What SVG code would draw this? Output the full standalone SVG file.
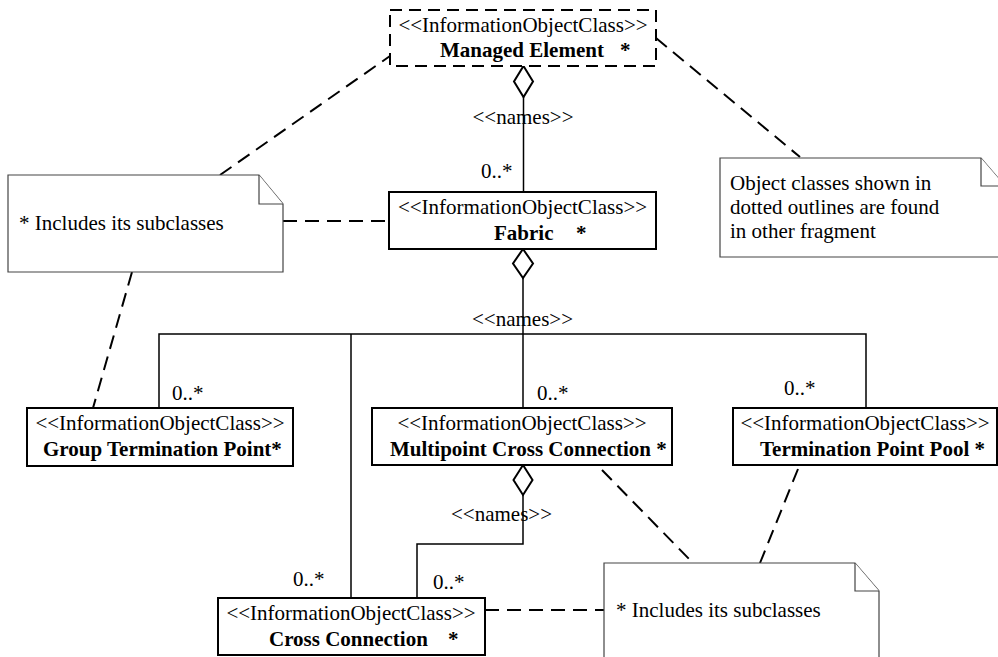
<svg xmlns="http://www.w3.org/2000/svg" width="998" height="657" viewBox="0 0 998 657">
  <style>
    text { font-family: "Liberation Serif", "Times New Roman", serif; font-size: 21px; fill: #000; }
    .b { font-weight: bold; }
    .mid { text-anchor: middle; }
    .box { fill: #fff; stroke: #000; stroke-width: 2; }
    .ext { fill: #fff; stroke: #000; stroke-width: 2; stroke-dasharray: 12 7; }
    .note { fill: #fff; stroke: #444; stroke-width: 1.2; }
    .link { fill: none; stroke: #000; stroke-width: 1.5; }
    .dash { fill: none; stroke: #000; stroke-width: 2; stroke-dasharray: 14 8; }
    .agg { fill: #fff; stroke: #000; stroke-width: 2; }
  </style>

  <!-- note attachments and associations -->
  <g id="connectors">
    <!-- dashed note anchors -->
    <line class="dash" x1="220" y1="175" x2="390" y2="56"/>
    <line class="dash" x1="656" y1="38" x2="800" y2="157"/>
    <line class="dash" x1="283" y1="221" x2="389" y2="221"/>
    <line class="dash" x1="132" y1="272" x2="93" y2="408"/>
    <line class="dash" x1="602" y1="470" x2="693" y2="563"/>
    <line class="dash" x1="798" y1="469" x2="760" y2="563"/>
    <line class="dash" x1="485" y1="610" x2="604" y2="610"/>

    <!-- Managed Element names Fabric -->
    <line class="link" x1="523.5" y1="97" x2="523.5" y2="192"/>
    <!-- Fabric names its children -->
    <line class="link" x1="523" y1="278" x2="523" y2="408"/>
    <polyline class="link" points="159,408 159,334 866,334 866,408"/>
    <line class="link" x1="351" y1="334" x2="351" y2="598"/>
    <!-- Multipoint Cross Connection names Cross Connection -->
    <polyline class="link" points="523,495 523,544 417,544 417,598"/>

    <!-- aggregation diamonds -->
    <polygon class="agg" points="523.5,66 533,81.5 523.5,97 514,81.5"/>
    <polygon class="agg" points="523,249 533,263.5 523,278 513,263.5"/>
    <polygon class="agg" points="523,465 532.5,480 523,495 513.5,480"/>

    <!-- role labels -->
    <text class="mid" x="523" y="124">&lt;&lt;names&gt;&gt;</text>
    <text x="481" y="178">0..*</text>
    <text class="mid" x="522.5" y="326">&lt;&lt;names&gt;&gt;</text>
    <text x="172" y="400">0..*</text>
    <text x="537" y="400">0..*</text>
    <text x="784" y="395">0..*</text>
    <text class="mid" x="501.5" y="521">&lt;&lt;names&gt;&gt;</text>
    <text x="293" y="586">0..*</text>
    <text x="433" y="589">0..*</text>
  </g>

  <g id="managed-element">
    <rect class="ext" x="390" y="10" width="266" height="56"/>
    <text class="mid" x="523" y="32">&lt;&lt;InformationObjectClass&gt;&gt;</text>
    <text class="b" y="57"><tspan x="440">Managed Element</tspan><tspan x="620">*</tspan></text>
  </g>

  <g id="fabric">
    <rect class="box" x="389" y="192" width="267" height="57"/>
    <text class="mid" x="522.5" y="214">&lt;&lt;InformationObjectClass&gt;&gt;</text>
    <text class="b" y="240"><tspan x="494">Fabric</tspan><tspan x="576">*</tspan></text>
  </g>

  <g id="group-termination-point">
    <rect class="box" x="27" y="408" width="266" height="58"/>
    <text class="mid" x="160" y="430">&lt;&lt;InformationObjectClass&gt;&gt;</text>
    <text class="b" x="43" y="456">Group Termination Point*</text>
  </g>

  <g id="multipoint-cross-connection">
    <rect class="box" x="372" y="408" width="300" height="57"/>
    <text class="mid" x="522" y="430">&lt;&lt;InformationObjectClass&gt;&gt;</text>
    <text class="b" x="390" y="456">Multipoint Cross Connection *</text>
  </g>

  <g id="termination-point-pool">
    <rect class="box" x="733" y="408" width="264" height="57"/>
    <text class="mid" x="865" y="430">&lt;&lt;InformationObjectClass&gt;&gt;</text>
    <text class="b" x="760" y="456">Termination Point Pool *</text>
  </g>

  <g id="cross-connection">
    <rect class="box" x="218" y="598" width="267" height="57"/>
    <text class="mid" x="351" y="620">&lt;&lt;InformationObjectClass&gt;&gt;</text>
    <text class="b" y="646"><tspan x="269">Cross Connection</tspan><tspan x="448">*</tspan></text>
  </g>

  <g id="note-subclasses-top">
    <path class="note" d="M8,175 H259 L283,204 V272 H8 Z"/>
    <polyline class="note" points="259,175 259,204 283,204"/>
    <text x="19" y="230">* Includes its subclasses</text>
  </g>

  <g id="note-fragment">
    <path class="note" d="M720,158 H981 L1005,186 V257 H720 Z"/>
    <polyline class="note" points="981,158 981,186 1005,186"/>
    <text x="730" y="189.5">Object classes shown in</text>
    <text x="730" y="213.5">dotted outlines are found</text>
    <text x="730" y="237.5">in other fragment</text>
  </g>

  <g id="note-subclasses-bottom">
    <path class="note" d="M604,563 H855 L879,591 V670 H604 Z"/>
    <polyline class="note" points="855,563 855,591 879,591"/>
    <text x="616" y="617">* Includes its subclasses</text>
  </g>
</svg>
